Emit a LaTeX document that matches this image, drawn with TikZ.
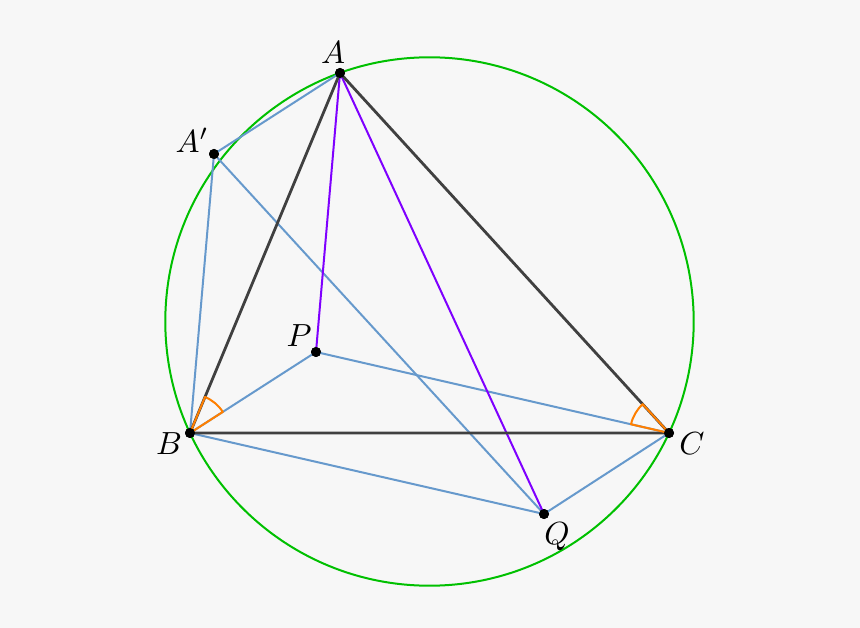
\documentclass[tikz,border=0pt]{standalone}
\usepackage{tikz}
\usetikzlibrary{calc}
\definecolor{bg}{HTML}{F7F7F7}
\definecolor{circ}{HTML}{00C000}
\definecolor{blu}{HTML}{6699CC}
\definecolor{pur}{HTML}{7F00FF}
\definecolor{ora}{HTML}{FF7F00}
\definecolor{tri}{HTML}{404040}
\begin{document}
\begin{tikzpicture}[x=1pt,y=-1pt,
  pt/.style={circle,fill=black,inner sep=0pt,minimum size=10pt},
  lbl/.style={scale=3.2},
  tril/.style={tri,line width=2.8pt},
  bl/.style={blu,line width=2pt},
  pl/.style={pur,line width=2pt},
  ang/.style={ora,line width=2pt,line join=round}]
\fill[bg] (0,0) rectangle (860,628);
\useasboundingbox (0,0) rectangle (860,628);
\coordinate (O) at (429.5,321.5);
\draw[circ,line width=2pt] (O) circle[radius=264.2];
\node[pt] (A) at (340,73) {};
\node[pt] (Ap) at (214,154) {};
\node[pt] (B) at (190,433) {};
\node[pt] (C) at (669,433) {};
\node[pt] (P) at (316,352) {};
\node[pt] (Q) at (544,514) {};
% blue lines
\draw[bl] (A.center) -- (Ap.center) -- (B.center);
\draw[bl] (Ap.center) -- (Q.center);
\draw[bl] (B.center) -- (P.center) -- (C.center);
\draw[bl] (B.center) -- (Q.center) -- (C.center);
% purple
\draw[pl] (A.center) -- (P.center);
\draw[pl] (A.center) -- (Q.center);
% triangle
\draw[tril,line join=round] (A.center) -- (B.center) -- (C.center) -- cycle;
% angle sectors
\draw[ang] (B.center) -- ($(B.center)!39pt!(A.center)$) arc[start angle={atan2(73-433,340-190)},end angle={atan2(352-433,316-190)},radius=39] -- cycle;
\draw[ang] (C.center) -- ($(C.center)!39pt!(A.center)$) arc[start angle={atan2(73-433,340-669)},end angle={atan2(352-433,316-669)},radius=39] -- cycle;
\node[pt] at (A) {};\node[pt] at (Ap) {};\node[pt] at (B) {};
\node[pt] at (C) {};\node[pt] at (P) {};\node[pt] at (Q) {};
\node[lbl] (lA) at (333,53) {$A$};
\node[lbl] (lAp) at (192,140) {$A'$};
\node[lbl] (lB) at (169,444) {$B$};
\node[lbl] (lC) at (692,444) {$C$};
\node[lbl] (lP) at (299,336) {$P$};
\node[lbl] (lQ) at (557,537) {$Q$};
\end{tikzpicture}
\end{document}
